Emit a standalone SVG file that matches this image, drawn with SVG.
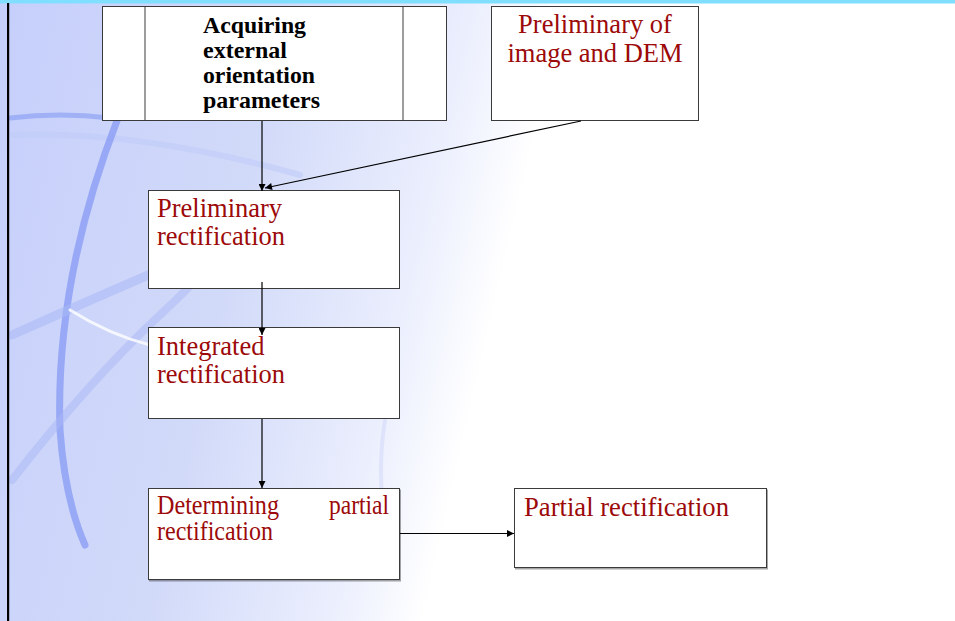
<svg xmlns="http://www.w3.org/2000/svg" width="955" height="621" viewBox="0 0 955 621">
<defs>
<linearGradient id="bg" x1="0" y1="0" x2="1" y2="0.15">
<stop offset="0" stop-color="#c6cffb"/>
<stop offset="0.3" stop-color="#d2daf9"/>
<stop offset="0.48" stop-color="#eaeefd"/>
<stop offset="0.58" stop-color="#ffffff"/>
<stop offset="1" stop-color="#ffffff"/>
</linearGradient>
<marker id="ah" viewBox="0 0 10 10" refX="10" refY="5" markerWidth="9" markerHeight="7" markerUnits="userSpaceOnUse" orient="auto">
<path d="M0,0 L10,5 L0,10 z" fill="#000"/>
</marker>
<filter id="sh" x="-5%" y="-5%" width="110%" height="110%">
<feDropShadow dx="1" dy="1.5" stdDeviation="0.6" flood-color="#000" flood-opacity="0.35"/>
</filter>
</defs>
<style>
.box{fill:#fff;stroke:#3a3a3a;stroke-width:1}
.red{font-family:"Liberation Serif","Times New Roman",serif;font-size:26.5px;fill:#9c0a0a}
.bold{font-family:"Liberation Serif","Times New Roman",serif;font-size:24px;font-weight:bold;fill:#000}
.con{stroke:#000;stroke-width:1.2;fill:none;marker-end:url(#ah)}
</style>
<rect width="955" height="621" fill="url(#bg)"/>
<g id="decor" fill="none" stroke-linecap="round">
<path d="M10,118 Q60,112 110,118" stroke="#8fa2f3" stroke-width="5" opacity="0.7"/>
<path d="M12,135 Q140,130 300,175" stroke="#c0cbf8" stroke-width="6" opacity="0.6"/>
<path d="M118,118 Q55,280 60,430 Q65,500 85,545" stroke="#8196f4" stroke-width="7" opacity="0.7"/>
<path d="M12,335 Q90,300 160,270" stroke="#a9b8f6" stroke-width="9" opacity="0.55"/>
<path d="M12,480 Q90,380 160,315 Q220,260 260,200" stroke="#a9b8f6" stroke-width="8" opacity="0.5"/>
<path d="M70,310 Q110,335 150,345" stroke="#ffffff" stroke-width="3" opacity="0.8"/>
<path d="M385,420 Q375,480 390,560" stroke="#c7d0f8" stroke-width="4" opacity="0.4"/>
</g>
<rect x="0" y="0" width="955" height="3.5" fill="#80dfff"/>
<rect x="7" y="3" width="2.2" height="618" fill="#000"/>
<g id="n1">
<rect class="box" x="102.5" y="6.5" width="344" height="114"/>
<line x1="145" y1="6.5" x2="145" y2="120.5" stroke="#3a3a3a"/>
<line x1="403" y1="6.5" x2="403" y2="120.5" stroke="#3a3a3a"/>
<text class="bold"><tspan x="203" y="33" textLength="103" lengthAdjust="spacingAndGlyphs">Acquiring</tspan><tspan x="203" y="58" textLength="84" lengthAdjust="spacingAndGlyphs">external</tspan><tspan x="203" y="83" textLength="112" lengthAdjust="spacingAndGlyphs">orientation</tspan><tspan x="203" y="108" textLength="117" lengthAdjust="spacingAndGlyphs">parameters</tspan></text>
</g>
<g id="n2">
<rect class="box" x="491.5" y="6.5" width="207" height="114"/>
<text class="red" text-anchor="middle"><tspan x="595" y="33">Preliminary of</tspan><tspan x="595" y="62">image and DEM</tspan></text>
</g>
<g id="n3">
<rect class="box" x="148.5" y="190.5" width="251" height="98"/>
<text class="red"><tspan x="157" y="217">Preliminary</tspan><tspan x="157" y="245">rectification</tspan></text>
</g>
<g id="n4">
<rect class="box" x="148.5" y="327.5" width="251" height="91"/>
<text class="red"><tspan x="157" y="355">Integrated</tspan><tspan x="157" y="383">rectification</tspan></text>
</g>
<g id="n5">
<rect class="box" x="148.5" y="488.5" width="251" height="91" filter="url(#sh)"/>
<text class="red" font-size="22"><tspan x="157" y="514" textLength="122" lengthAdjust="spacingAndGlyphs">Determining</tspan><tspan x="329" y="514" textLength="60" lengthAdjust="spacingAndGlyphs">partial</tspan><tspan x="157" y="540" textLength="116" lengthAdjust="spacingAndGlyphs">rectification</tspan></text>
</g>
<g id="n6">
<rect class="box" x="514.5" y="488.5" width="252" height="79" filter="url(#sh)"/>
<text class="red" x="524" y="516" textLength="205" lengthAdjust="spacingAndGlyphs">Partial rectification</text>
</g>
<g id="connectors">
<line class="con" x1="262" y1="121" x2="262" y2="191"/>
<line class="con" x1="581" y1="121" x2="265" y2="188"/>
<line class="con" x1="262" y1="282" x2="262" y2="335"/>
<line class="con" x1="262" y1="419" x2="262" y2="488"/>
<line class="con" x1="400" y1="533.5" x2="514" y2="533.5"/>
</g>
</svg>
